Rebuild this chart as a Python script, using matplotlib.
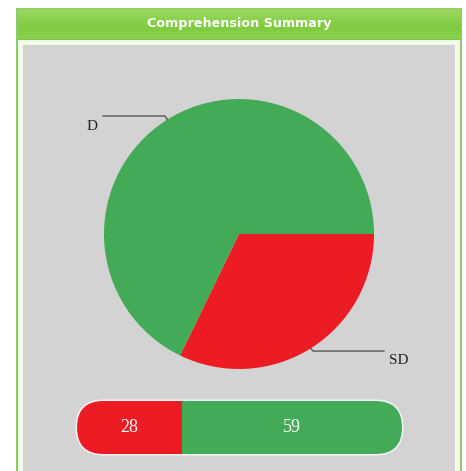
import matplotlib
matplotlib.use("Agg")
import matplotlib.pyplot as plt
import numpy as np
from matplotlib.patches import FancyBboxPatch, Rectangle

# ---- data ----
title = "Comprehension Summary"
categories = ["SD", "D"]
values = [28, 59]
colors = ["#ed1c24", "#43aa57"]

W, H = 466, 471
fig = plt.figure(figsize=(W / 100, H / 100), dpi=100)
fig.patch.set_facecolor("white")

# main pixel-coordinate axes for the panel frame
ax = fig.add_axes([0, 0, 1, 1])
ax.set_xlim(0, W)
ax.set_ylim(H, 0)
ax.axis("off")

# outer frame (pale with green border)
ax.add_patch(Rectangle((17, 9), 444, H, facecolor="#f3fbec", edgecolor="#77c24a", lw=1.2))
# header gradient
grad = np.linspace(0, 1, 64)
top = np.array([0x9c, 0xd9, 0x62]) / 255
mid = np.array([0x80, 0xcb, 0x40]) / 255
bot = np.array([0x8c, 0xd2, 0x50]) / 255
rows = []
for g in grad:
    if g < 0.6:
        t = g / 0.6
        rows.append(top * (1 - t) + mid * t)
    else:
        t = (g - 0.6) / 0.4
        rows.append(mid * (1 - t) + bot * t)
img = np.array(rows).reshape(-1, 1, 3)
ax.imshow(img, extent=(17.5, 460.5, 39, 9.5), aspect="auto", zorder=1)
ax.plot([17.5, 460.5], [39, 39], color="#7cc54c", lw=0.8, zorder=2)
ax.text(239, 24, title, color="white", fontsize=9.2, fontweight="bold",
        ha="center", va="center", family="DejaVu Sans", zorder=3)
# gray panel
ax.add_patch(Rectangle((23, 45), 432, H, facecolor="#d3d3d3", edgecolor="none", zorder=1))

# ---- pie ----
cx, cy, r = 239, 234, 135
pax = fig.add_axes([(cx - r) / W, (H - cy - r) / H, 2 * r / W, 2 * r / H])
pax.patch.set_alpha(0)
wedges, _ = pax.pie(values, colors=colors, startangle=0, counterclock=False,
                    radius=1, wedgeprops=dict(linewidth=0))
pax.set_xlim(-1, 1)
pax.set_ylim(-1, 1)
pax.axis("off")
for w in wedges:
    w.set_clip_on(False)

total = sum(values)
serif = ["Liberation Serif", "DejaVu Serif"]
# leader lines + labels
label_cfg = {
    "D": dict(bend=(-0.548, 0.874), end=(-1.007, 0.874), txt=(-1.085, 0.80)),
    "SD": dict(bend=(0.548, -0.867), end=(1.074, -0.867), txt=(1.18, -0.935)),
}
for w, cat in zip(wedges, categories):
    ang = np.deg2rad((w.theta1 + w.theta2) / 2)
    p0 = (np.cos(ang), np.sin(ang))
    cfg = label_cfg[cat]
    xs = [p0[0], cfg["bend"][0], cfg["end"][0]]
    ys = [p0[1], cfg["bend"][1], cfg["end"][1]]
    pax.plot(xs, ys, color="#555555", lw=1.0, clip_on=False)
    pax.text(cfg["txt"][0], cfg["txt"][1], cat, fontsize=11, family=serif,
             color="#222222", ha="center", va="center", clip_on=False)

# ---- stacked pill bar ----
bx0, bx1, by0, by1 = 77, 402, 401, 454
bh = by1 - by0
pill = FancyBboxPatch((bx0, by0), bx1 - bx0, bh,
                      boxstyle=f"round,pad=0,rounding_size={bh/2}",
                      facecolor="none", edgecolor="#f4f4f4", lw=2.2,
                      transform=ax.transData, zorder=6)
bax = fig.add_axes([bx0 / W, (H - by1) / H, (bx1 - bx0) / W, bh / H])
bax.set_xlim(0, total)
bax.set_ylim(-0.5, 0.5)
bax.axis("off")
bax.patch.set_alpha(0)
left = 0
bar_order = ["SD", "D"]
for cat in bar_order:
    v = values[categories.index(cat)]
    c = colors[categories.index(cat)]
    b = bax.barh(0, v, left=left, height=1.0, color=c, edgecolor="none")
    for rect in b:
        rect.set_clip_path(pill)
    bax.text(left + v / 2, 0.0, str(v), color="white", fontsize=13,
             family=serif, ha="center", va="center")
    left += v
ax.add_patch(pill)

fig.savefig("out.png", dpi=100)
